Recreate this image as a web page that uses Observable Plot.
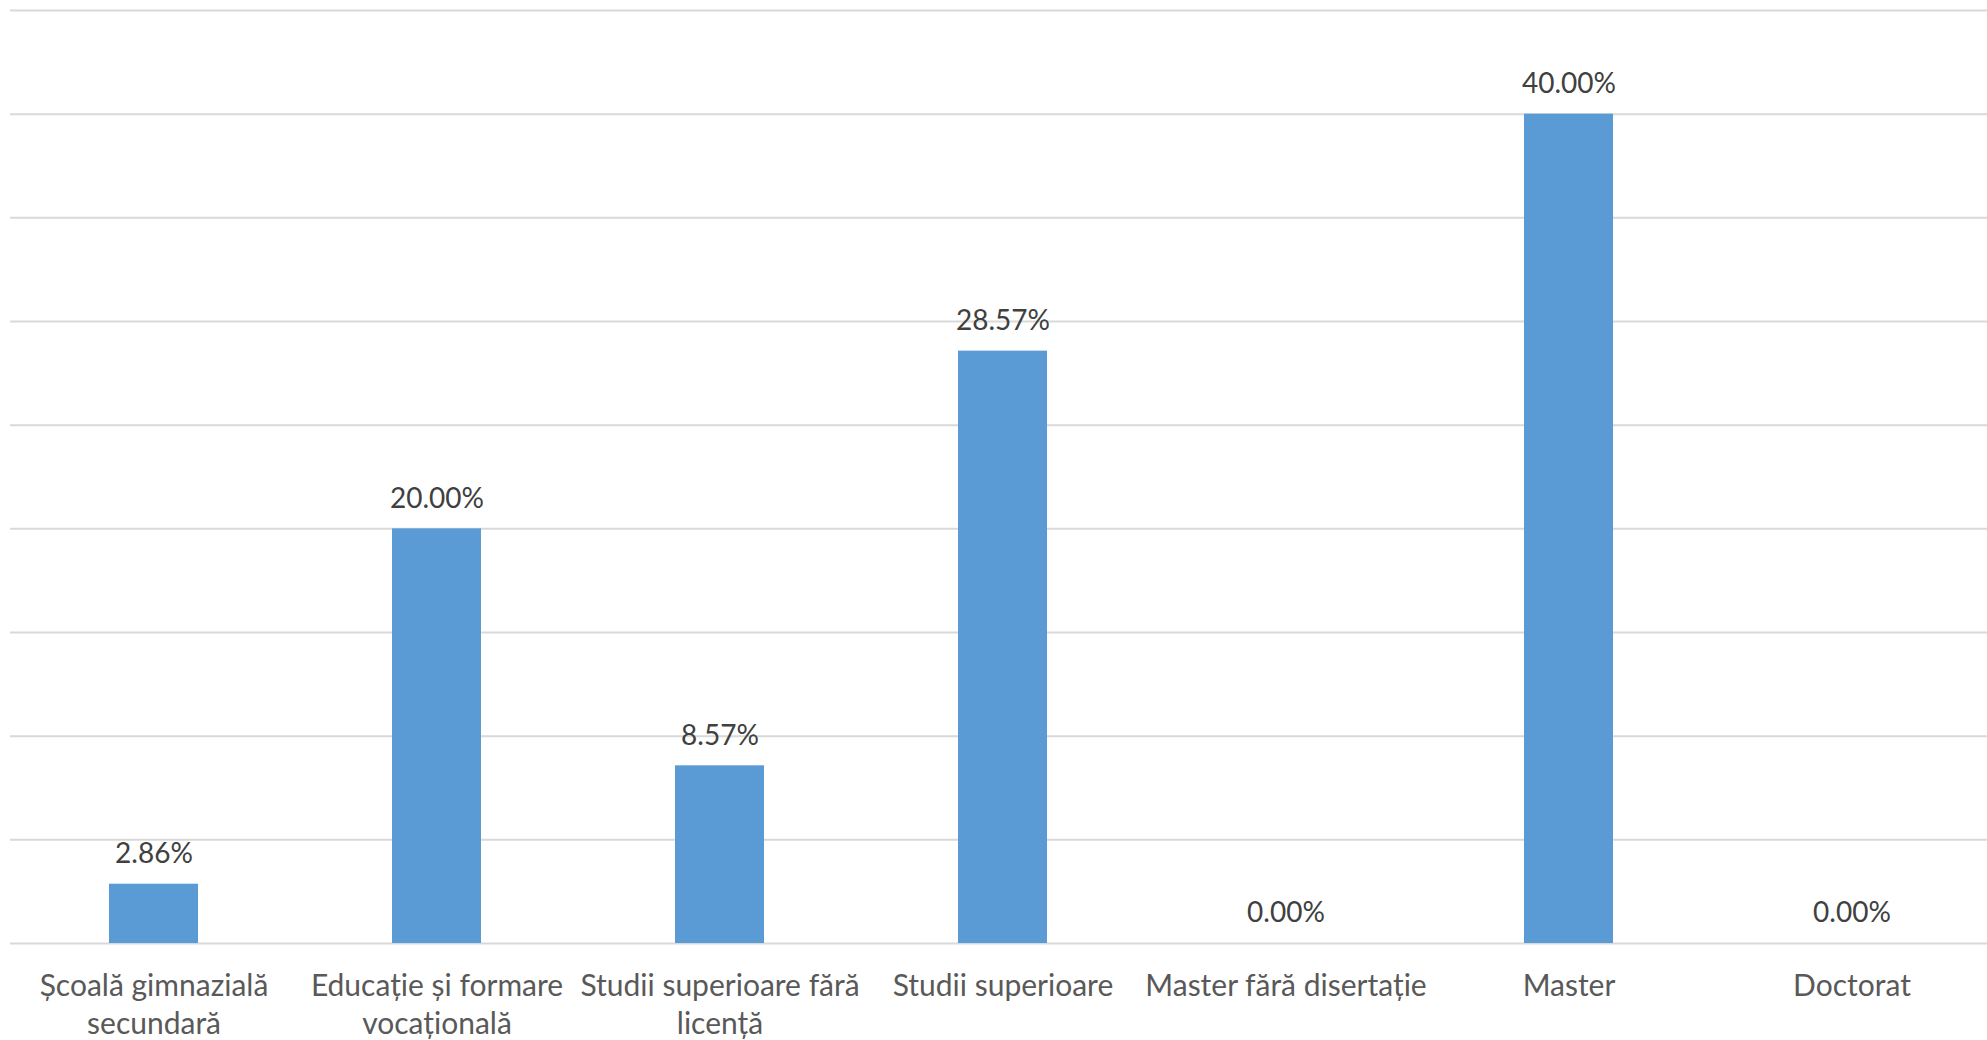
<!DOCTYPE html>
<html>
<head>
<meta charset="utf-8">
<script src="https://cdn.jsdelivr.net/npm/d3@7"></script>
<script src="https://cdn.jsdelivr.net/npm/@observablehq/plot@0.6"></script>
<style>
  html, body { margin: 0; padding: 0; background: #fff; }
  #chart svg { display: block; }
</style>
</head>
<body>
<div id="chart"></div>
<script>
const categories = [
  "Școală gimnazială secundară",
  "Educație și formare vocațională",
  "Studii superioare fără licență",
  "Studii superioare",
  "Master fără disertație",
  "Master",
  "Doctorat"
];
const tickLabels = [
  "Școală gimnazială\nsecundară",
  "Educație și formare\nvocațională",
  "Studii superioare fără\nlicență",
  "Studii superioare",
  "Master fără disertație",
  "Master",
  "Doctorat"
];
const values = [2.86, 20.00, 8.57, 28.57, 0.00, 40.00, 0.00];
const yTicks = [0, 5, 10, 15, 20, 25, 30, 35, 40, 45];

const data = categories.map((c, i) => ({category: c, label: tickLabels[i], value: values[i]}));

const font = "Lato, 'Open Sans', sans-serif";

const chart = Plot.plot({
  width: 1987,
  height: 1040,
  marginTop: 10,
  marginBottom: 97,
  marginLeft: 10,
  marginRight: 0,
  style: {fontFamily: font, background: "#fff"},
  x: {domain: categories, paddingInner: 0.685, paddingOuter: 0.3425, insetLeft: 2, insetRight: -6, axis: null},
  y: {domain: [0, 45], axis: null},
  marks: [
    Plot.ruleY(yTicks, {stroke: "#d9d9d9", strokeWidth: 2}),
    Plot.barY(data, {x: "category", y: "value", fill: "#5b9bd5"}),
    Plot.text(data, {
      x: "category", y: "value",
      text: d => d.value.toFixed(2) + "%",
      dy: -30, fontSize: 28, fill: "#404040", lineAnchor: "middle"
    }),
    Plot.text(data, {
      x: "category", y: 0,
      text: "label",
      dy: 26, fontSize: 30, fill: "#595959", lineAnchor: "top", lineHeight: 1.25
    })
  ]
});
document.getElementById("chart").appendChild(chart);
</script>
</body>
</html>
